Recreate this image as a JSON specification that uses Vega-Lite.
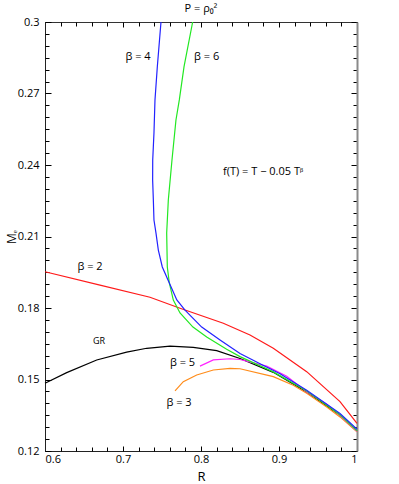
{
  "$schema": "https://vega.github.io/schema/vega-lite/v6.json",
  "width": 312,
  "height": 429,
  "autosize": {"type": "none"},
  "padding": {"left": 45, "top": 22, "right": 42, "bottom": 33},
  "config": {"font": "Open Sans", "view": {"stroke": "#333", "strokeWidth": 1}, "axis": {"grid": false, "domainColor": "#222", "labelColor": "#000", "titleColor": "#000", "labelFontSize": 11, "titleFontWeight": "normal"}},
  "title": {"text": "P = ρ₀²", "fontSize": 11, "fontWeight": "normal", "color": "#000", "offset": 2},
  "data": {"values": [
      {"s": "gr", "i": 0, "x": 0.6, "y": 0.1484},
      {"s": "gr", "i": 1, "x": 0.6278, "y": 0.1529},
      {"s": "gr", "i": 2, "x": 0.6663, "y": 0.1582},
      {"s": "gr", "i": 3, "x": 0.7047, "y": 0.1615},
      {"s": "gr", "i": 4, "x": 0.7304, "y": 0.1631},
      {"s": "gr", "i": 5, "x": 0.7603, "y": 0.164},
      {"s": "gr", "i": 6, "x": 0.7901, "y": 0.1635},
      {"s": "gr", "i": 7, "x": 0.8201, "y": 0.1621},
      {"s": "gr", "i": 8, "x": 0.85, "y": 0.1588},
      {"s": "gr", "i": 9, "x": 0.8927, "y": 0.153},
      {"s": "gr", "i": 10, "x": 0.9355, "y": 0.1448},
      {"s": "gr", "i": 11, "x": 0.9782, "y": 0.135},
      {"s": "gr", "i": 12, "x": 1.0, "y": 0.1283},

      {"s": "b2", "i": 0, "x": 0.6, "y": 0.1952},
      {"s": "b2", "i": 1, "x": 0.6705, "y": 0.1896},
      {"s": "b2", "i": 2, "x": 0.7346, "y": 0.1845},
      {"s": "b2", "i": 3, "x": 0.7731, "y": 0.1799},
      {"s": "b2", "i": 4, "x": 0.8286, "y": 0.1736},
      {"s": "b2", "i": 5, "x": 0.8628, "y": 0.1687},
      {"s": "b2", "i": 6, "x": 0.8927, "y": 0.1631},
      {"s": "b2", "i": 7, "x": 0.9355, "y": 0.1533},
      {"s": "b2", "i": 8, "x": 0.9782, "y": 0.1407},
      {"s": "b2", "i": 9, "x": 1.0, "y": 0.1316},

      {"s": "b3", "i": 0, "x": 0.7667, "y": 0.1452},
      {"s": "b3", "i": 1, "x": 0.7773, "y": 0.1491},
      {"s": "b3", "i": 2, "x": 0.7945, "y": 0.1519},
      {"s": "b3", "i": 3, "x": 0.8158, "y": 0.154},
      {"s": "b3", "i": 4, "x": 0.8372, "y": 0.1547},
      {"s": "b3", "i": 5, "x": 0.85, "y": 0.1545},
      {"s": "b3", "i": 6, "x": 0.8927, "y": 0.1512},
      {"s": "b3", "i": 7, "x": 0.9183, "y": 0.1476},
      {"s": "b3", "i": 8, "x": 0.9355, "y": 0.1442},
      {"s": "b3", "i": 9, "x": 0.9612, "y": 0.1385},
      {"s": "b3", "i": 10, "x": 0.9782, "y": 0.1343},
      {"s": "b3", "i": 11, "x": 1.0, "y": 0.1281},

      {"s": "b5", "i": 0, "x": 0.7987, "y": 0.1556},
      {"s": "b5", "i": 1, "x": 0.8158, "y": 0.1582},
      {"s": "b5", "i": 2, "x": 0.8372, "y": 0.1587},
      {"s": "b5", "i": 3, "x": 0.85, "y": 0.1584},
      {"s": "b5", "i": 4, "x": 0.8842, "y": 0.1556},
      {"s": "b5", "i": 5, "x": 0.9099, "y": 0.1514},
      {"s": "b5", "i": 6, "x": 0.9355, "y": 0.1449},
      {"s": "b5", "i": 7, "x": 0.9612, "y": 0.1396},
      {"s": "b5", "i": 8, "x": 0.9782, "y": 0.135},
      {"s": "b5", "i": 9, "x": 1.0, "y": 0.1283},

      {"s": "b6", "i": 0, "x": 0.7893, "y": 0.3},
      {"s": "b6", "i": 1, "x": 0.7782, "y": 0.2812},
      {"s": "b6", "i": 2, "x": 0.7722, "y": 0.2673},
      {"s": "b6", "i": 3, "x": 0.7679, "y": 0.2589},
      {"s": "b6", "i": 4, "x": 0.7628, "y": 0.2421},
      {"s": "b6", "i": 5, "x": 0.7581, "y": 0.2253},
      {"s": "b6", "i": 6, "x": 0.756, "y": 0.2115},
      {"s": "b6", "i": 7, "x": 0.7568, "y": 0.1972},
      {"s": "b6", "i": 8, "x": 0.7594, "y": 0.1905},
      {"s": "b6", "i": 9, "x": 0.7645, "y": 0.1833},
      {"s": "b6", "i": 10, "x": 0.7731, "y": 0.1779},
      {"s": "b6", "i": 11, "x": 0.7897, "y": 0.172},
      {"s": "b6", "i": 12, "x": 0.8073, "y": 0.1678},
      {"s": "b6", "i": 13, "x": 0.8329, "y": 0.1627},
      {"s": "b6", "i": 14, "x": 0.85, "y": 0.1596},
      {"s": "b6", "i": 15, "x": 0.8927, "y": 0.1532},
      {"s": "b6", "i": 16, "x": 0.9355, "y": 0.1452},
      {"s": "b6", "i": 17, "x": 0.9782, "y": 0.1352},
      {"s": "b6", "i": 18, "x": 1.0, "y": 0.1285},

      {"s": "b4", "i": 0, "x": 0.7487, "y": 0.3},
      {"s": "b4", "i": 1, "x": 0.744, "y": 0.2812},
      {"s": "b4", "i": 2, "x": 0.741, "y": 0.2673},
      {"s": "b4", "i": 3, "x": 0.7397, "y": 0.2534},
      {"s": "b4", "i": 4, "x": 0.7381, "y": 0.2421},
      {"s": "b4", "i": 5, "x": 0.738, "y": 0.2337},
      {"s": "b4", "i": 6, "x": 0.7389, "y": 0.2253},
      {"s": "b4", "i": 7, "x": 0.7397, "y": 0.2169},
      {"s": "b4", "i": 8, "x": 0.7423, "y": 0.2114},
      {"s": "b4", "i": 9, "x": 0.7453, "y": 0.2043},
      {"s": "b4", "i": 10, "x": 0.7504, "y": 0.1972},
      {"s": "b4", "i": 11, "x": 0.7594, "y": 0.1905},
      {"s": "b4", "i": 12, "x": 0.769, "y": 0.1834},
      {"s": "b4", "i": 13, "x": 0.7795, "y": 0.1791},
      {"s": "b4", "i": 14, "x": 0.8009, "y": 0.172},
      {"s": "b4", "i": 15, "x": 0.8244, "y": 0.1666},
      {"s": "b4", "i": 16, "x": 0.85, "y": 0.1609},
      {"s": "b4", "i": 17, "x": 0.8795, "y": 0.156},
      {"s": "b4", "i": 18, "x": 0.9013, "y": 0.1524},
      {"s": "b4", "i": 19, "x": 0.9355, "y": 0.1455},
      {"s": "b4", "i": 20, "x": 0.9782, "y": 0.1357},
      {"s": "b4", "i": 21, "x": 1.0, "y": 0.1291}
  ]},
  "layer": [
    {
      "transform": [{"filter": "datum.s === 'gr'"}],
      "mark": {"type": "line", "color": "#000000", "strokeWidth": 1.2},
      "encoding": {
        "x": {"field": "x", "type": "quantitative", "scale": {"domain": [0.6, 1.0], "nice": false, "zero": false},
          "axis": {"orient": "bottom", "values": [0.6, 0.7, 0.8, 0.9, 1.0], "format": "~g", "ticks": false, "labelPadding": 2, "title": "R", "titleFontSize": 13, "titlePadding": 6}},
        "y": {"field": "y", "type": "quantitative", "scale": {"domain": [0.12, 0.3], "nice": false, "zero": false},
          "axis": {"orient": "left", "values": [0.12, 0.15, 0.18, 0.21, 0.24, 0.27, 0.3], "format": "~g", "ticks": false, "labelPadding": 6, "title": "Mₑ", "titleFontSize": 12, "titlePadding": -1}},
        "order": {"field": "i", "type": "quantitative"}
      }
    },
    {
      "transform": [{"filter": "datum.s === 'b2'"}],
      "mark": {"type": "line", "color": "#ff1a1a", "strokeWidth": 1.2},
      "encoding": {
        "x": {"field": "x", "type": "quantitative", "scale": {"domain": [0.6, 1.0], "nice": false, "zero": false},
          "axis": {"orient": "bottom", "values": [0.6, 0.7, 0.8, 0.9, 1.0], "offset": -5, "tickSize": 5, "tickColor": "#000", "tickWidth": 1, "labels": false, "domain": false, "title": null}},
        "y": {"field": "y", "type": "quantitative", "scale": {"domain": [0.12, 0.3], "nice": false, "zero": false},
          "axis": {"orient": "left", "values": [0.12, 0.15, 0.18, 0.21, 0.24, 0.27, 0.3], "offset": -6, "tickSize": 6, "tickColor": "#000", "tickWidth": 1, "labels": false, "domain": false, "title": null}},
        "order": {"field": "i", "type": "quantitative"}
      }
    },
    {
      "transform": [{"filter": "datum.s === 'b3'"}],
      "mark": {"type": "line", "color": "#ff8c1a", "strokeWidth": 1.2},
      "encoding": {
        "x": {"field": "x", "type": "quantitative", "scale": {"domain": [0.6, 1.0], "nice": false, "zero": false},
          "axis": {"orient": "bottom", "values": [0.62, 0.64, 0.66, 0.68, 0.72, 0.74, 0.76, 0.78, 0.82, 0.84, 0.86, 0.88, 0.92, 0.94, 0.96, 0.98], "offset": -4, "tickSize": 4, "tickColor": "#000", "tickWidth": 1, "labels": false, "domain": false, "title": null}},
        "y": {"field": "y", "type": "quantitative", "scale": {"domain": [0.12, 0.3], "nice": false, "zero": false},
          "axis": {"orient": "left", "values": [0.125, 0.13, 0.135, 0.14, 0.145, 0.155, 0.16, 0.165, 0.17, 0.175, 0.185, 0.19, 0.195, 0.2, 0.205, 0.215, 0.22, 0.225, 0.23, 0.235, 0.245, 0.25, 0.255, 0.26, 0.265, 0.275, 0.28, 0.285, 0.29, 0.295], "offset": -4, "tickSize": 4, "tickColor": "#000", "tickWidth": 1, "labels": false, "domain": false, "title": null}},
        "order": {"field": "i", "type": "quantitative"}
      }
    },
    {
      "transform": [{"filter": "datum.s === 'b5'"}],
      "mark": {"type": "line", "color": "#ff22ff", "strokeWidth": 1.2},
      "encoding": {
        "x": {"field": "x", "type": "quantitative", "scale": {"domain": [0.6, 1.0], "nice": false, "zero": false},
          "axis": {"orient": "top", "values": [0.6, 0.7, 0.8, 0.9, 1.0], "offset": -5, "tickSize": 5, "tickColor": "#000", "tickWidth": 1, "labels": false, "domain": false, "title": null}},
        "y": {"field": "y", "type": "quantitative", "scale": {"domain": [0.12, 0.3], "nice": false, "zero": false},
          "axis": {"orient": "right", "values": [0.12, 0.15, 0.18, 0.21, 0.24, 0.27, 0.3], "offset": -6, "tickSize": 6, "tickColor": "#000", "tickWidth": 1, "labels": false, "domain": false, "title": null}},
        "order": {"field": "i", "type": "quantitative"}
      }
    },
    {
      "transform": [{"filter": "datum.s === 'b6'"}],
      "mark": {"type": "line", "color": "#22e822", "strokeWidth": 1.2},
      "encoding": {
        "x": {"field": "x", "type": "quantitative", "scale": {"domain": [0.6, 1.0], "nice": false, "zero": false},
          "axis": {"orient": "top", "values": [0.62, 0.64, 0.66, 0.68, 0.72, 0.74, 0.76, 0.78, 0.82, 0.84, 0.86, 0.88, 0.92, 0.94, 0.96, 0.98], "offset": -4, "tickSize": 4, "tickColor": "#000", "tickWidth": 1, "labels": false, "domain": false, "title": null}},
        "y": {"field": "y", "type": "quantitative", "scale": {"domain": [0.12, 0.3], "nice": false, "zero": false},
          "axis": {"orient": "right", "values": [0.125, 0.13, 0.135, 0.14, 0.145, 0.155, 0.16, 0.165, 0.17, 0.175, 0.185, 0.19, 0.195, 0.2, 0.205, 0.215, 0.22, 0.225, 0.23, 0.235, 0.245, 0.25, 0.255, 0.26, 0.265, 0.275, 0.28, 0.285, 0.29, 0.295], "offset": -4, "tickSize": 4, "tickColor": "#000", "tickWidth": 1, "labels": false, "domain": false, "title": null}},
        "order": {"field": "i", "type": "quantitative"}
      }
    },
    {
      "transform": [{"filter": "datum.s === 'b4'"}],
      "mark": {"type": "line", "color": "#2222ff", "strokeWidth": 1.2},
      "encoding": {
        "x": {"field": "x", "type": "quantitative", "scale": {"domain": [0.6, 1.0], "nice": false, "zero": false}, "axis": null},
        "y": {"field": "y", "type": "quantitative", "scale": {"domain": [0.12, 0.3], "nice": false, "zero": false},
          "axis": {"orient": "right", "ticks": false, "labels": false, "domainColor": "#8a8a8a", "domainWidth": 2, "title": null}},
        "order": {"field": "i", "type": "quantitative"}
      }
    },
    {
      "data": {"values": [
        {"x": 0.7192, "y": 0.2853, "t": "β = 4"},
        {"x": 0.8073, "y": 0.2853, "t": "β = 6"},
        {"x": 0.8795, "y": 0.2372, "t": "f(T) = T − 0.05 Tᵝ"},
        {"x": 0.6577, "y": 0.1973, "t": "β = 2"},
        {"x": 0.7763, "y": 0.1568, "t": "β = 5"},
        {"x": 0.7718, "y": 0.1402, "t": "β = 3"}
      ]},
      "mark": {"type": "text", "fontSize": 11, "color": "#000", "align": "center", "baseline": "middle"},
      "encoding": {
        "x": {"field": "x", "type": "quantitative", "axis": null},
        "y": {"field": "y", "type": "quantitative", "axis": null},
        "text": {"field": "t", "type": "nominal"}
      }
    },
    {
      "data": {"values": [{"x": 0.6692, "y": 0.1663, "t": "GR"}]},
      "mark": {"type": "text", "fontSize": 9, "color": "#000", "align": "center", "baseline": "middle"},
      "encoding": {
        "x": {"field": "x", "type": "quantitative", "axis": null},
        "y": {"field": "y", "type": "quantitative", "axis": null},
        "text": {"field": "t", "type": "nominal"}
      }
    }
  ],
  "resolve": {"axis": {"x": "independent", "y": "independent"}}
}
